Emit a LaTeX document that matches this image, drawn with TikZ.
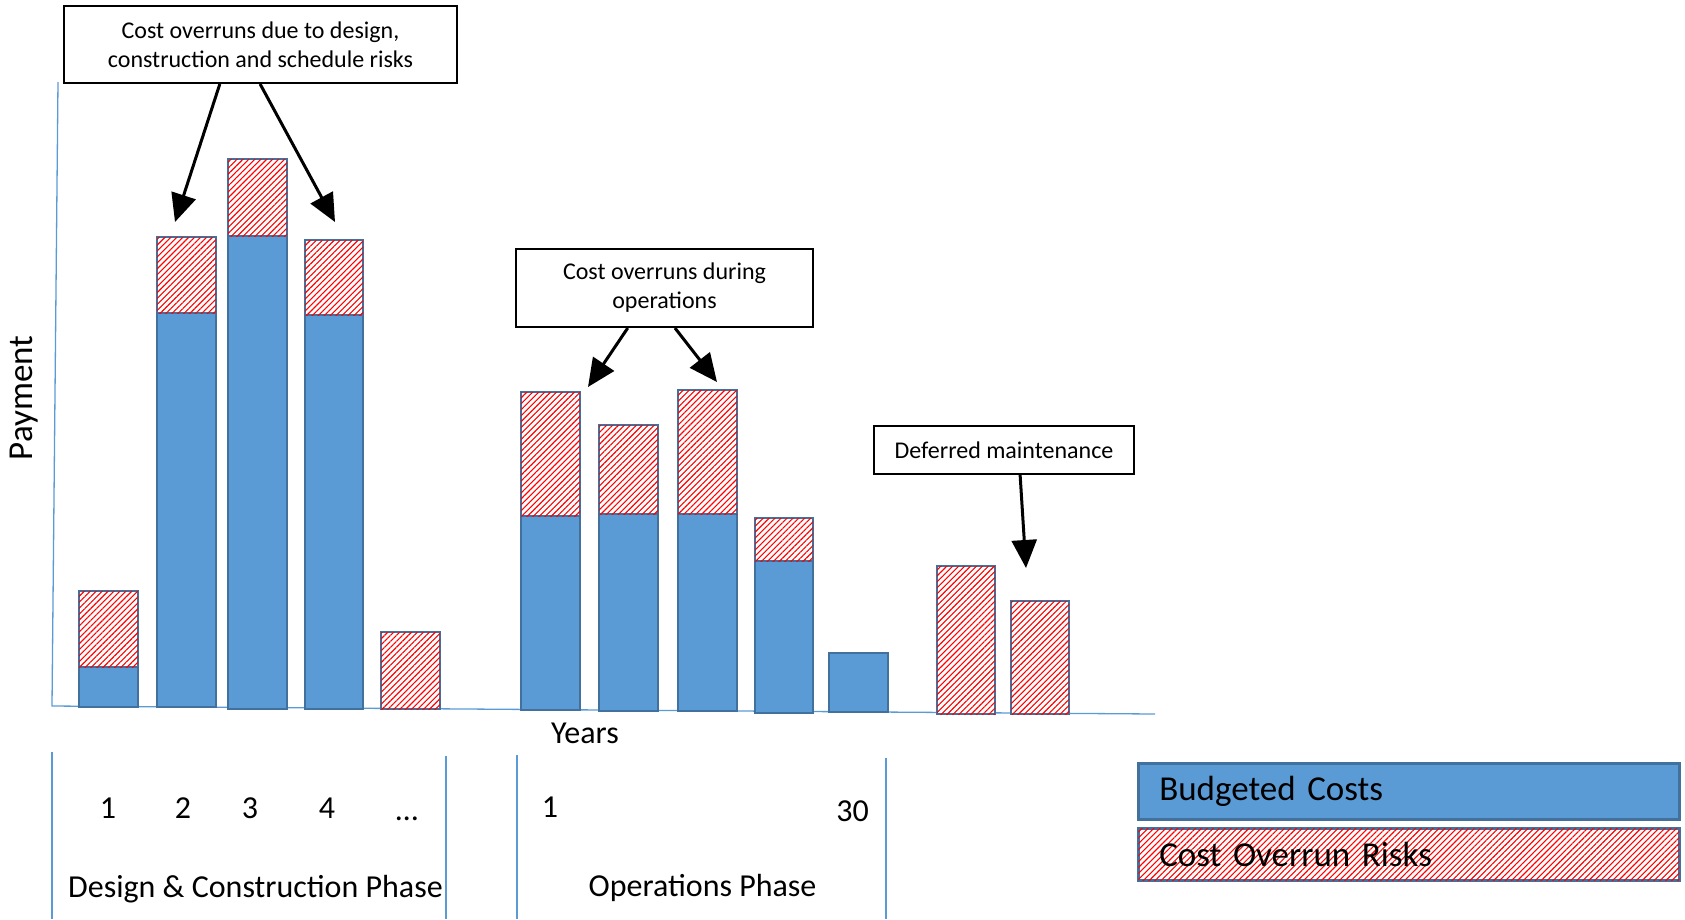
\documentclass[tikz,border=0pt]{standalone}
\usepackage{fontspec}
\setmainfont{Carlito}
\usetikzlibrary{arrows.meta,patterns.meta,calc}
\definecolor{barblue}{HTML}{5B9BD5}
\definecolor{baredge}{HTML}{41719C}
\definecolor{axisblue}{HTML}{5B9BD5}
\tikzset{
  budget/.style={fill=barblue,draw=baredge,line width=2.5pt},
  risk/.style={fill=white,postaction={pattern={Lines[angle=45,distance=4.2pt,line width=1.1pt]},pattern color=red},draw=baredge,line width=2.5pt},
  axisline/.style={draw=axisblue,line width=1.3pt},
  callout/.style={draw=black,fill=white,line width=2pt,inner sep=0pt,align=center,font=\fontsize{24}{29}\selectfont},
  pointer/.style={line width=3pt,-{Triangle[width=25pt,length=28pt]}},
  lbl/.style={anchor=base,inner sep=0pt,font=\fontsize{32}{38}\selectfont},
  legendbox/.style={anchor=north west,minimum width=541pt,text width=499pt,inner xsep=21pt,inner ysep=0pt,align=left,font=\fontsize{35}{42}\selectfont},
}
\newcommand\costbar[5]{% x1, x2, top, boundary, bottom
  \draw[budget] (#1,#4) rectangle (#2,#5);
  \draw[risk] (#1,#3) rectangle (#2,#4);
}
\newcommand\riskbar[4]{\draw[risk] (#1,#3) rectangle (#2,#4);}
\newcommand\budgetbar[4]{\draw[budget] (#1,#3) rectangle (#2,#4);}
\begin{document}
\begin{tikzpicture}[x=1pt,y=-1pt]
\useasboundingbox (0,0) rectangle (1685,919);
% axes
\draw[axisline] (58,82) -- (52,706) -- (1155,714);
% year separators
\draw[axisline,line width=1.1pt] (52,752) -- (52,919);
\draw[axisline,line width=1.1pt] (446,756) -- (446,919);
\draw[axisline,line width=1.1pt] (517,755) -- (517,919);
\draw[axisline,line width=1.1pt] (886,758) -- (886,919);
% bars: design & construction
\costbar{79}{138}{591}{667}{707}
\costbar{157}{216}{237}{313}{707}
\costbar{228}{287}{159}{236}{709}
\costbar{305}{363}{240}{315}{709}
\riskbar{381}{440}{632}{709}
% bars: operations
\costbar{521}{580}{392}{516}{710}
\costbar{599}{658}{425}{514}{711}
\costbar{678}{737}{390}{514}{711}
\costbar{755}{813}{518}{561}{713}
\budgetbar{829}{888}{653}{712}
\riskbar{937}{995}{566}{714}
\riskbar{1011}{1069}{601}{714}
% callouts
\node[callout,minimum width=393pt,minimum height=77pt] (c1) at (260.5,44.5) {Cost overruns due to design,\\construction and schedule risks};
\node[callout,minimum width=297pt,minimum height=78pt] (c2) at (664.5,288) {Cost overruns during\\operations};
\node[callout,minimum width=260pt,minimum height=48pt] (c3) at (1004,450) {Deferred maintenance};
\coordinate (t1) at (175,222);
\coordinate (t2) at (335,222);
\coordinate (t3) at (588,387);
\coordinate (t4) at (717,382);
\coordinate (t5) at (1026,568);
\draw[pointer] ($(c1.south west)!0.397!(c1.south east)$) -- (t1);
\draw[pointer] ($(c1.south west)!0.499!(c1.south east)$) -- (t2);
\draw[pointer] ($(c2.south west)!0.377!(c2.south east)$) -- (t3);
\draw[pointer] ($(c2.south west)!0.535!(c2.south east)$) -- (t4);
\draw[pointer] ($(c3.south west)!0.5615!(c3.south east)$) -- (t5);
% axis labels
\node[lbl,anchor=center,font=\fontsize{35}{40}\selectfont,rotate=90] (pay) at (24,398) {Payment};
\node[lbl] (years) at (585,743) {Years};
% year numbers
\node[lbl] (y1) at (108,818) {1};
\node[lbl] (y2) at (183,818) {2};
\node[lbl] (y3) at (250,818) {3};
\node[lbl] (y4) at (327,818) {4};
\node[lbl] (ydots) at (407,820) {\dots};
\node[lbl] (o1) at (550,817) {1};
\node[lbl] (o30) at (852.5,821) {30};
\node[lbl] (dc) at (255.5,897) {Design \& Construction Phase};
\node[lbl] (op) at (702.5,896) {Operations Phase};
% legend
\node[legendbox,budget,minimum height=56pt] (lb) at (1137,762) {Budgeted Costs};
\node[legendbox,risk,minimum height=52pt] (lr) at (1137,827) {Cost Overrun Risks};
\end{tikzpicture}
\end{document}
